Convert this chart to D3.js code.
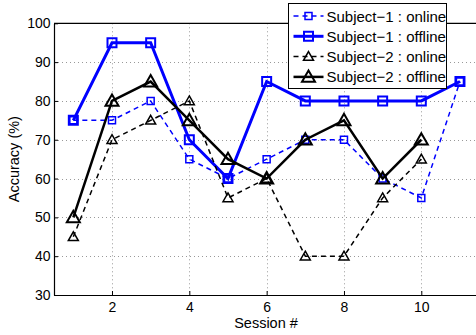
<!DOCTYPE html>
<html>
<head>
<meta charset="utf-8">
<script src="https://cdn.jsdelivr.net/npm/d3@7"></script>
<style>
  body { margin: 0; background: #fff; }
  svg { display: block; font-family: "Liberation Sans", Arial, sans-serif; }
</style>
</head>
<body>
<div id="chart"></div>
<script>
const sessions = [1, 2, 3, 4, 5, 6, 7, 8, 9, 10, 11];
const s1Online = [75, 75, 80, 65, 60, 65, 70, 70, 60, 55, 85];
const s1Offline = [75, 95, 95, 70, 60, 85, 80, 80, 80, 80, 85];
const s2Online = [45, 70, 75, 80, 55, 60, 40, 40, 55, 65];
const s2Offline = [50, 80, 85, 75, 65, 60, 70, 75, 60, 70];
const xTicks = [2, 4, 6, 8, 10];
const yTicks = [30, 40, 50, 60, 70, 80, 90, 100];

const series = [
    { name: 'Subject\u22121 : online', values: s1Online, color: '#0000ff', dash: '5,4', width: 1.5, marker: 'square', size: 7 },
    { name: 'Subject\u22121 : offline', values: s1Offline, color: '#0000ff', dash: null, width: 3, marker: 'square', size: 9 },
    { name: 'Subject\u22122 : online', values: s2Online, color: '#000', dash: '5,4', width: 1.5, marker: 'triangle', size: 10 },
    { name: 'Subject\u22122 : offline', values: s2Offline, color: '#000', dash: null, width: 2.5, marker: 'triangle', size: 13 }
];

const W = 476, H = 335;
const svg = d3.select('#chart').append('svg')
    .attr('width', W).attr('height', H);

const x = d3.scaleLinear().domain([0.5, 11.5]).range([54, 479.3]);
const y = d3.scaleLinear().domain([30, 100]).range([295, 23.3]);
const plotTop = y(100), plotBottom = y(30), plotLeft = x(0.5), plotRight = x(11.5);

// grid
const grid = svg.append('g').attr('stroke', '#999').attr('stroke-width', 1).attr('stroke-dasharray', '1,3');
grid.selectAll('.gx').data(xTicks).join('line')
    .attr('x1', d => Math.round(x(d)) + 0.5).attr('x2', d => Math.round(x(d)) + 0.5)
    .attr('y1', plotTop).attr('y2', plotBottom);
grid.selectAll('.gy').data(yTicks.slice(1, -1)).join('line')
    .attr('x1', plotLeft).attr('x2', plotRight)
    .attr('y1', d => Math.round(y(d)) + 0.5).attr('y2', d => Math.round(y(d)) + 0.5);

// axes (ticks inward, MATLAB style)
svg.append('g')
    .attr('transform', `translate(0,${plotBottom})`)
    .call(d3.axisBottom(x).tickValues(xTicks).tickSizeInner(-4).tickSizeOuter(0).tickPadding(7))
    .call(g => g.select('.domain').attr('stroke-width', 1.2))
    .call(g => g.selectAll('text').attr('font-size', 14).attr('fill', '#000').attr('font-family', null));
svg.append('g')
    .attr('transform', `translate(${plotLeft},0)`)
    .call(d3.axisLeft(y).tickValues(yTicks).tickSizeInner(-4).tickSizeOuter(0).tickPadding(3.5))
    .call(g => g.select('.domain').attr('stroke-width', 1.2))
    .call(g => g.selectAll('text').attr('font-size', 14).attr('fill', '#000').attr('font-family', null));
svg.append('line')
    .attr('x1', plotLeft).attr('x2', plotRight).attr('y1', plotTop).attr('y2', plotTop)
    .attr('stroke', '#000').attr('stroke-width', 1.2);

svg.append('text')
    .attr('x', 266).attr('y', 327.5)
    .attr('text-anchor', 'middle').attr('font-size', 14.5)
    .text('Session #');
svg.append('text')
    .attr('transform', `translate(19,${(plotTop + plotBottom) / 2}) rotate(-90)`)
    .attr('text-anchor', 'middle').attr('font-size', 14.5)
    .text('Accuracy (%)');

function markerPath(type, s) {
    const h = s / 2;
    if (type === 'square') {
        return `M${-h},${-h}H${h}V${h}H${-h}Z`;
    }
    return `M0,${-h}L${h},${h * 0.75}L${-h},${h * 0.75}Z`;
}

const line = d3.line().x((d, i) => x(sessions[i])).y(d => y(d));

series.forEach(s => {
    const g = svg.append('g');
    g.append('path')
        .attr('d', line(s.values))
        .attr('fill', 'none')
        .attr('stroke', s.color)
        .attr('stroke-width', s.width)
        .attr('stroke-dasharray', s.dash);
    g.selectAll('path.m').data(s.values).join('path')
        .attr('class', 'm')
        .attr('transform', (d, i) => `translate(${x(sessions[i])},${y(d)})`)
        .attr('d', markerPath(s.marker, s.size))
        .attr('fill', 'none')
        .attr('stroke', s.color)
        .attr('stroke-width', s.dash ? 1.5 : 2);
});

// legend
const lg = svg.append('g').attr('transform', 'translate(288.5,3.5)');
lg.append('rect').attr('width', 158).attr('height', 85)
    .attr('fill', '#fff').attr('stroke', '#000').attr('stroke-width', 1);
series.forEach((s, i) => {
    const cy = 12.5 + i * 20.3;
    const row = lg.append('g').attr('transform', `translate(0,${cy})`);
    row.append('line')
        .attr('x1', 5).attr('x2', 35).attr('y1', 0).attr('y2', 0)
        .attr('stroke', s.color).attr('stroke-width', s.width)
        .attr('stroke-dasharray', s.dash);
    row.append('path')
        .attr('transform', 'translate(20,0)')
        .attr('d', markerPath(s.marker, s.size))
        .attr('fill', 'none')
        .attr('stroke', s.color)
        .attr('stroke-width', s.dash ? 1.5 : 2);
    row.append('text')
        .attr('x', 38).attr('y', 5.5)
        .attr('font-size', 15)
        .text(s.name);
});
</script>
</body>
</html>
